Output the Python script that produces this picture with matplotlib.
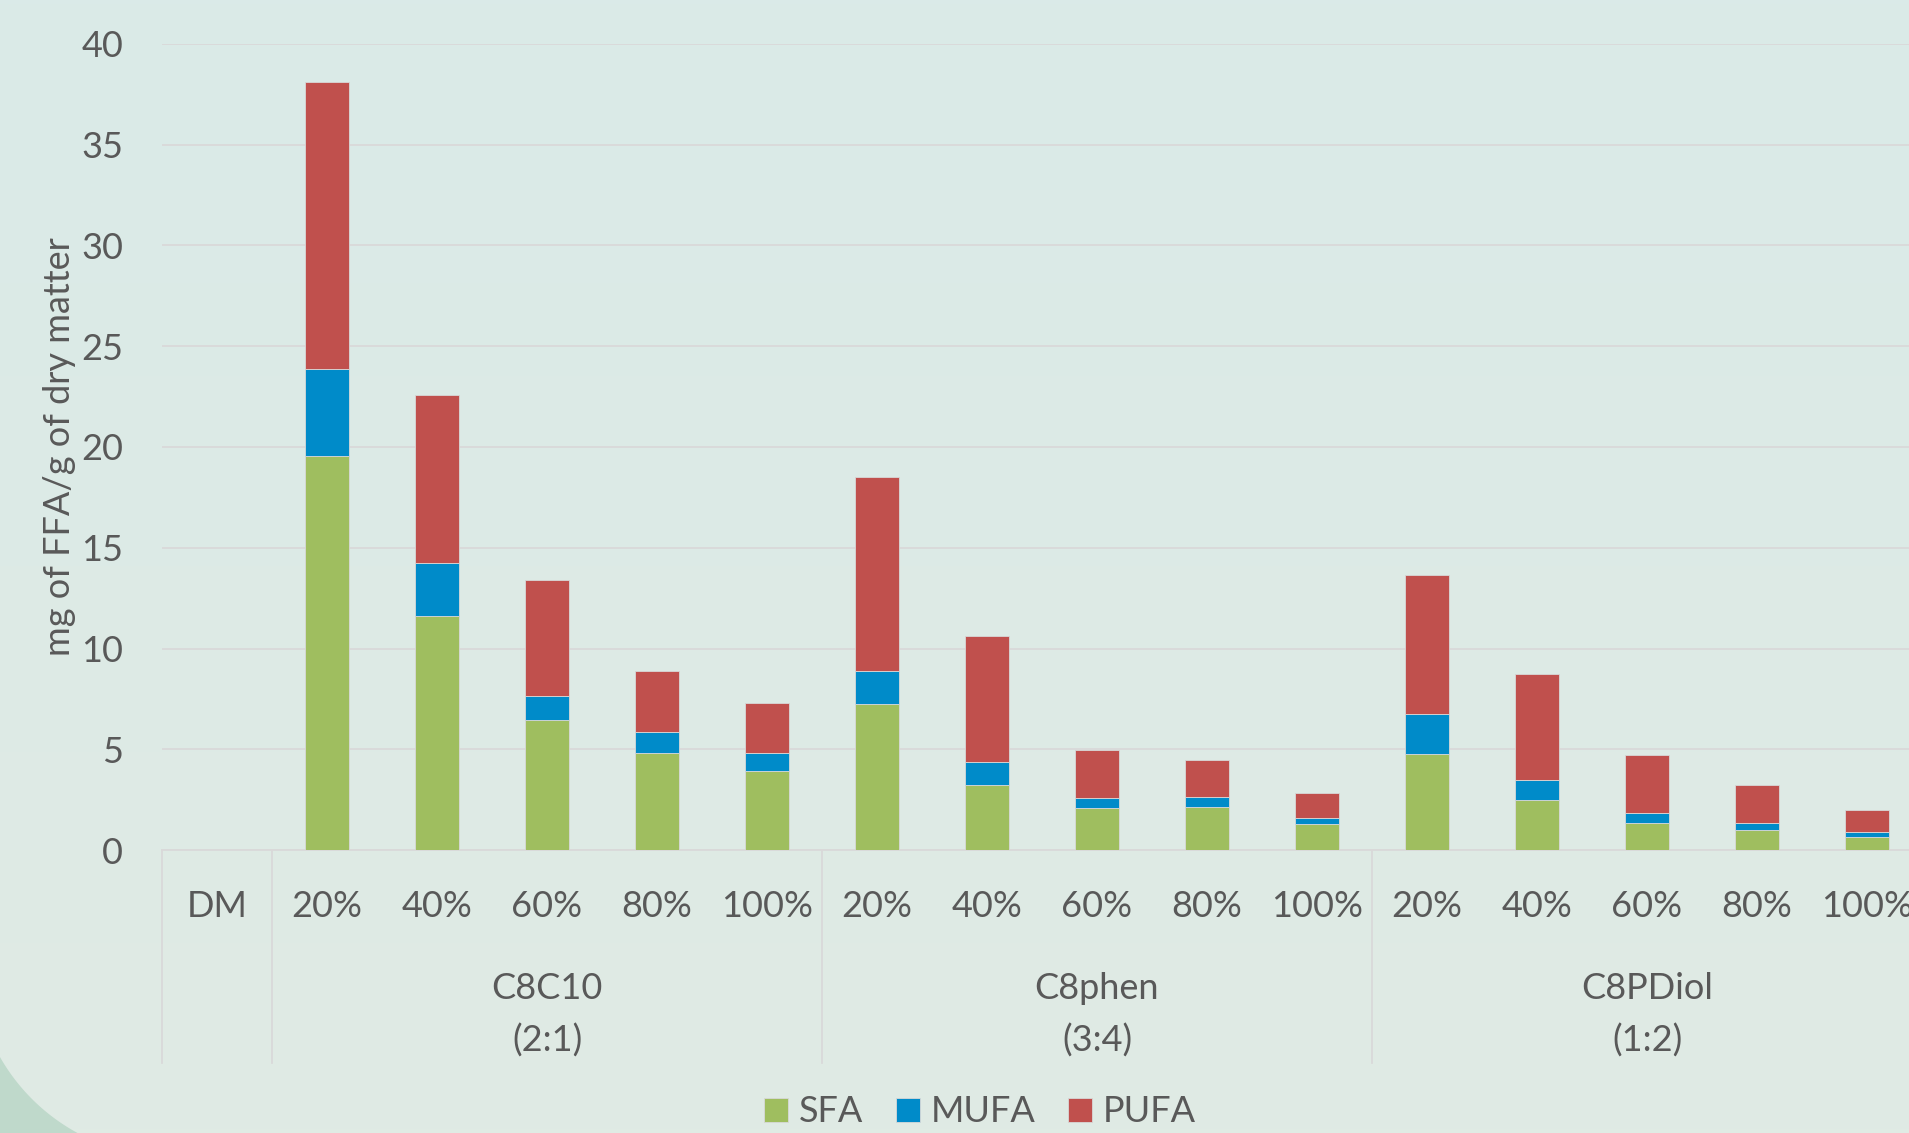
import matplotlib.pyplot as plt
import matplotlib.transforms as mtransforms
from matplotlib.patches import Polygon
import numpy as np

# Data (mg of FFA / g of dry matter)
categories = ['DM',
              '20%', '40%', '60%', '80%', '100%',
              '20%', '40%', '60%', '80%', '100%',
              '20%', '40%', '60%', '80%', '100%']
group_names = ['C8C10\n(2:1)', 'C8phen\n(3:4)', 'C8PDiol\n(1:2)']
group_spans = [(1, 5), (6, 10), (11, 15)]

sfa = [0,
       19.57, 11.59, 6.44, 4.82, 3.90,
       7.25, 3.25, 2.09, 2.15, 1.27,
       4.75, 2.47, 1.36, 0.99, 0.66]
mufa = [0,
        4.31, 2.66, 1.19, 1.04, 0.92,
        1.62, 1.12, 0.48, 0.47, 0.30,
        2.02, 0.99, 0.49, 0.37, 0.23]
pufa = [0,
        14.25, 8.32, 5.76, 3.01, 2.48,
        9.64, 6.23, 2.38, 1.85, 1.26,
        6.87, 5.26, 2.84, 1.89, 1.08]

series_names = ['SFA', 'MUFA', 'PUFA']
series_colors = ['#9FBE5F', '#008BC9', '#C0504D']

# Figure geometry (pixels)
W, H = 1909, 1133
ax_left, ax_right = 162, 1922
ax_top, ax_bottom = 44, 850

text_color = '#595959'
grid_color = '#D9D9D9'
font = 'Lato'

fig = plt.figure(figsize=(W / 100, H / 100), dpi=100)

# background: soft vertical gradient + darker rounded corner bottom-left
bg = fig.add_axes([0, 0, 1, 1], zorder=-10)
top_rgb = np.array([0xDA, 0xEA, 0xE8]) / 255
bot_rgb = np.array([0xE0, 0xEB, 0xE4]) / 255
t = np.linspace(0, 1, 256)[:, None]
grad = (top_rgb[None, :] * (1 - t) + bot_rgb[None, :] * t)[:, None, :]
bg.imshow(grad, extent=(0, W, H, 0), aspect='auto')
cx, cy, r = 172, 959, 198
ang = np.linspace(np.pi, np.pi / 2, 80)
arc = np.column_stack([cx + r * np.cos(ang), cy + r * np.sin(ang)])
corner = np.vstack([arc, [[cx, H + 60], [-60, H + 60], [-60, cy]]])
bg.add_patch(Polygon(corner, closed=True, color='#BFD9CB', lw=0))
bg.set_xlim(0, W)
bg.set_ylim(H, 0)
bg.axis('off')

ax = fig.add_axes([ax_left / W, 1 - ax_bottom / H,
                   (ax_right - ax_left) / W, (ax_bottom - ax_top) / H])
ax.patch.set_alpha(0)

x = np.arange(len(categories))
bottom = np.zeros(len(categories))
handles = []
for name, vals, col in zip(series_names, [sfa, mufa, pufa], series_colors):
    b = ax.bar(x, vals, width=0.4, bottom=bottom, color=col,
               edgecolor='#D8D8D8', linewidth=0.6, label=name, zorder=3)
    handles.append(b)
    bottom = bottom + np.array(vals)

ax.set_xlim(-0.5, len(categories) - 0.5)
ax.set_ylim(0, 40)
ax.set_yticks(np.arange(0, 41, 5))
ax.yaxis.grid(True, color=grid_color, linewidth=1.3)
ax.set_axisbelow(True)
for s in ['top', 'right', 'left']:
    ax.spines[s].set_visible(False)
ax.spines['bottom'].set_color(grid_color)
ax.spines['bottom'].set_linewidth(1.3)

ax.set_xticks(x)
ax.set_xticklabels(categories)
ax.tick_params(axis='both', length=0, labelsize=26, labelcolor=text_color)
ax.tick_params(axis='x', pad=29)
ax.tick_params(axis='y', pad=28)
for lab in ax.get_xticklabels() + ax.get_yticklabels():
    lab.set_fontfamily(font)

ax.set_ylabel('mg of FFA/g of dry matter', fontsize=26, color=text_color,
              fontfamily=font, labelpad=4)

# multi-level category axis: separators and group labels
trans = mtransforms.blended_transform_factory(ax.transData, ax.transAxes)
sep_bottom = -(1063 - ax_bottom) / (ax_bottom - ax_top)
for xs in [-0.5, 0.5, 5.5, 10.5, 15.5]:
    ax.plot([xs, xs], [0, sep_bottom], transform=trans, color=grid_color,
            lw=1.3, clip_on=False)
for name, (a, b) in zip(group_names, group_spans):
    ax.text((a + b) / 2, -(1015 - ax_bottom) / (ax_bottom - ax_top), name,
            transform=trans, ha='center', va='center', fontsize=26,
            color=text_color, fontfamily=font, linespacing=1.65)

fig.legend(handles=handles, labels=series_names, loc='center',
           bbox_to_anchor=(980 / W, (H - 1112) / H), ncol=3, frameon=False,
           prop={'family': font, 'size': 26}, labelcolor=text_color,
           handlelength=0.67, handleheight=0.67, handletextpad=0.3,
           columnspacing=0.9)

fig.savefig('out.png', dpi=100)
